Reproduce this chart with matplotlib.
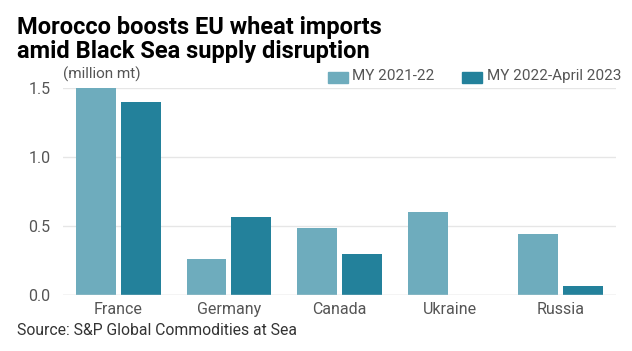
import numpy as np
import matplotlib.pyplot as plt

plt.rcParams['font.family'] = ['Roboto', 'DejaVu Sans']

# data (million mt)
countries = ['France', 'Germany', 'Canada', 'Ukraine', 'Russia']
my_2021_22 = [1.50, 0.26, 0.485, 0.60, 0.44]
my_2022_apr23 = [1.40, 0.565, 0.30, 0.0, 0.065]
series_names = ['MY 2021-22', 'MY 2022-April 2023']
y_ticks = [0.0, 0.5, 1.0, 1.5]

light = '#6eacbd'
dark = '#23819b'
grey_txt = '#555555'

fig = plt.figure(figsize=(6.32, 3.51), dpi=100)
ax = fig.add_axes([0.0997, 0.1595, 0.875, 0.5895])

x = np.arange(len(countries))
w = 0.36
ax.bar(x - 0.2025, my_2021_22, width=w, color=light, zorder=3)
ax.bar(x + 0.2025, my_2022_apr23, width=w, color=dark, zorder=3)

ax.set_xlim(-0.5, 4.5)
ax.set_ylim(0, 1.5)
ax.set_yticks(y_ticks)
ax.set_yticklabels(['%.1f' % t for t in y_ticks])
ax.set_xticks(x)
ax.set_xticklabels(countries)
ax.grid(axis='y', color='#e6e6e6', linewidth=1, zorder=0)
ax.axhline(0, color='#e0e0e0', linewidth=1, zorder=4)
for s in ax.spines.values():
    s.set_visible(False)
ax.tick_params(axis='both', length=0, labelsize=11.5, labelcolor=grey_txt)
ax.tick_params(axis='y', pad=9)
ax.tick_params(axis='x', pad=5)

# title and notes
fig.text(0.027, 0.953, 'Morocco boosts EU wheat imports\namid Black Sea supply disruption',
         fontsize=17, fontweight='bold', va='top', ha='left', linespacing=1.05, color='black')
fig.text(0.1, 0.765, '(million mt)', fontsize=11, color=grey_txt, va='bottom')
fig.text(0.027, 0.045, 'Source: S&P Global Commodities at Sea', fontsize=11.3, color='#333333')

# legend
fig.patches.append(plt.Rectangle((0.519, 0.7635), 0.032, 0.031, transform=fig.transFigure, color=light))
fig.text(0.557, 0.7635, series_names[0], fontsize=11, color=grey_txt, va='bottom')
fig.patches.append(plt.Rectangle((0.731, 0.7635), 0.032, 0.031, transform=fig.transFigure, color=dark))
fig.text(0.770, 0.7635, series_names[1], fontsize=11, color=grey_txt, va='bottom')

fig.savefig('out.png', dpi=100)
